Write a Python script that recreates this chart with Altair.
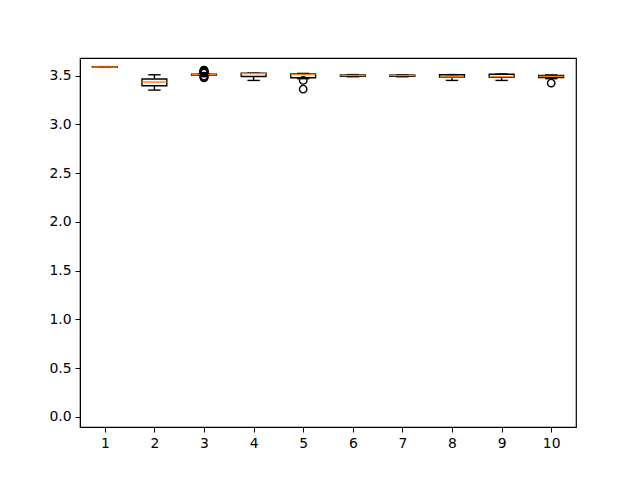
import altair as alt
import pandas as pd

positions = [1, 2, 3, 4, 5, 6, 7, 8, 9, 10]
whisk_lo = [3.586, 3.353, 3.505, 3.452, 3.470, 3.490, 3.490, 3.452, 3.452, 3.470]
q1 = [3.588, 3.397, 3.507, 3.493, 3.480, 3.495, 3.495, 3.485, 3.485, 3.482]
median = [3.590, 3.435, 3.512, 3.522, 3.513, 3.503, 3.503, 3.488, 3.490, 3.493]
q3 = [3.592, 3.466, 3.517, 3.525, 3.518, 3.508, 3.507, 3.510, 3.515, 3.502]
whisk_hi = [3.594, 3.510, 3.520, 3.527, 3.524, 3.512, 3.510, 3.512, 3.518, 3.508]

out_pos = [3, 3, 3, 3, 3, 3, 3, 3, 3, 3, 3, 3, 3, 3, 3, 5, 5, 10]
out_val = [3.558, 3.555, 3.552, 3.548, 3.545, 3.541, 3.538, 3.535, 3.530, 3.527,
           3.497, 3.493, 3.489, 3.484, 3.478, 3.452, 3.363, 3.425]

box_w = 0.25
cap_w = 0.125
df = pd.DataFrame({
    "pos": positions, "lo": whisk_lo, "q1": q1, "med": median, "q3": q3, "hi": whisk_hi,
})
df["bx0"] = df["pos"] - box_w
df["bx1"] = df["pos"] + box_w
df["cx0"] = df["pos"] - cap_w
df["cx1"] = df["pos"] + cap_w
dout = pd.DataFrame({"pos": out_pos, "val": out_val})

xs = alt.Scale(domain=[0.5, 10.5], nice=False, zero=False)
ys = alt.Scale(domain=[-0.103, 3.682], nice=False, zero=False)

xax = alt.Axis(values=positions, format="d", title=None, grid=False, tickSize=5,
               labelPadding=4, labelFontSize=13.9, labelFont="DejaVu Sans",
               domainColor="black", tickColor="black", labelColor="black")
yax = alt.Axis(values=[0.0, 0.5, 1.0, 1.5, 2.0, 2.5, 3.0, 3.5], format=".1f", title=None,
               grid=False, tickSize=5, labelPadding=4, labelFontSize=13.9,
               labelFont="DejaVu Sans", domainColor="black", tickColor="black",
               labelColor="black")

base = alt.Chart(df)
X = alt.X("pos:Q", scale=xs, axis=xax)
Y = alt.Y("lo:Q", scale=ys, axis=yax)

wlo = base.mark_rule(color="black", strokeWidth=1.4).encode(
    x=X, y=Y, y2="q1:Q")
whi = base.mark_rule(color="black", strokeWidth=1.4).encode(
    x=X, y=alt.Y("q3:Q", scale=ys), y2="hi:Q")
cap_lo = base.mark_rule(color="black", strokeWidth=1.4).encode(
    x=alt.X("cx0:Q", scale=xs), x2="cx1:Q", y=alt.Y("lo:Q", scale=ys))
cap_hi = base.mark_rule(color="black", strokeWidth=1.4).encode(
    x=alt.X("cx0:Q", scale=xs), x2="cx1:Q", y=alt.Y("hi:Q", scale=ys))
box = base.mark_rect(stroke="black", strokeWidth=1.4, fillOpacity=0, fill="white").encode(
    x=alt.X("bx0:Q", scale=xs), x2="bx1:Q", y=alt.Y("q1:Q", scale=ys), y2="q3:Q")
med = base.mark_rule(color="#ff7f0e", strokeWidth=1.4).encode(
    x=alt.X("bx0:Q", scale=xs), x2="bx1:Q", y=alt.Y("med:Q", scale=ys))
fl = alt.Chart(dout).mark_point(shape="circle", filled=False, color="black",
                                strokeWidth=1.4, size=55, opacity=1).encode(
    x=alt.X("pos:Q", scale=xs), y=alt.Y("val:Q", scale=ys))

chart = alt.layer(wlo, whi, cap_lo, cap_hi, box, med, fl).properties(
    width=496, height=369,
    autosize=alt.AutoSizeParams(type="none"),
    padding={"left": 80, "top": 58, "right": 64, "bottom": 53},
    background="white",
).configure_view(stroke="black", strokeWidth=1.2)

chart.save("out.html", embed_options={"renderer": "svg", "actions": False})
